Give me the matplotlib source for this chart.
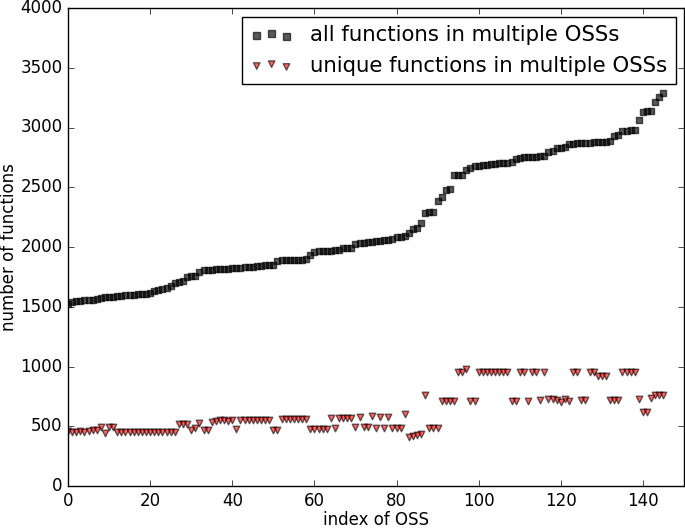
import numpy as np
import matplotlib
matplotlib.use("Agg")
import matplotlib.pyplot as plt

# values, index 0..145
all_funcs = (
    [1520, 1540, 1545, 1550, 1555, 1555, 1560, 1565, 1570, 1580,
     1585, 1585, 1590, 1592, 1595, 1598, 1600, 1603, 1605, 1610,
     1615, 1630, 1640, 1645, 1655, 1670, 1700, 1710, 1715, 1750,
     1755, 1760, 1790, 1805, 1808, 1810, 1812, 1815, 1818, 1820,
     1822, 1825, 1828, 1830, 1833, 1836, 1840, 1843, 1846, 1850,
     1852]
    + [1885, 1888, 1890, 1890, 1892, 1893, 1895, 1897]
    + [1935]
    + [1960, 1965, 1967, 1968, 1970, 1972, 1975]
    + [1988, 1990, 1992]
    + [2025, 2030, 2035, 2040, 2045, 2048, 2052, 2055, 2060, 2070, 2080, 2085]
    + [2095, 2120, 2150, 2155, 2200, 2285, 2290, 2295, 2385, 2420,
       2480, 2485, 2600, 2600, 2605, 2645, 2660]
    + [2675, 2680, 2685, 2690, 2695, 2698, 2700, 2703, 2706, 2710]
    + [2740, 2745, 2750, 2752, 2755, 2757, 2758, 2760]
    + [2795, 2800, 2825, 2830, 2835]
    + [2860, 2865, 2868, 2870, 2872, 2874, 2876, 2878, 2880, 2882, 2885]
    + [2925, 2935, 2970, 2972, 2975, 2980, 3065, 3130, 3135, 3140,
       3210, 3258, 3290]
)

unique_funcs = (
    [460, 455, 455, 460, 455, 460, 465, 470, 490, 445, 490, 490]
    + [455] * 15
    + [520, 520, 520, 470, 485, 530, 470, 470]
    + [535, 545, 550, 550, 545, 555, 475]
    + [550] * 8
    + [470, 470]
    + [560] * 7
    + [480] * 5
    + [565, 485, 565, 565, 565, 565, 490, 580, 490, 490, 585]
    + [488, 580, 488, 580, 488, 488, 488, 600]
    + [410, 420, 425, 435, 760, 483, 483, 483]
    + [714, 714, 714, 714, 950, 950, 980, 714, 714]
    + [950] * 8
    + [714, 714, 950, 950, 714, 950, 950, 720, 950]
    + [730, 730, 720, 705, 725, 715]
    + [950, 950, 720, 720, 950, 950, 920, 920, 920, 720, 720, 720]
    + [950, 950, 950, 950, 730, 620, 620, 740, 760, 760, 760]
)

idx = np.arange(len(all_funcs))

plt.style.use("classic")
fig = plt.figure(figsize=(6.85, 5.28), dpi=100)
ax = fig.add_axes([68 / 685, 42 / 528, 616 / 685, 478 / 528])

ax.scatter(idx, all_funcs, s=22, marker="s", c="k", alpha=0.65,
           label="all functions in multiple OSSs")
ax.scatter(idx, unique_funcs, s=22, marker="v", c="r", alpha=0.6,
           label="unique functions in multiple OSSs")

ax.set_xlim(0, 150)
ax.set_ylim(0, 4000)
ax.set_xlabel("index of OSS", labelpad=1)
ax.set_ylabel("number of functions", labelpad=2)
ax.legend(loc="upper right", fontsize=15.3, borderaxespad=0.4)

fig.savefig("out.png", dpi=100)
